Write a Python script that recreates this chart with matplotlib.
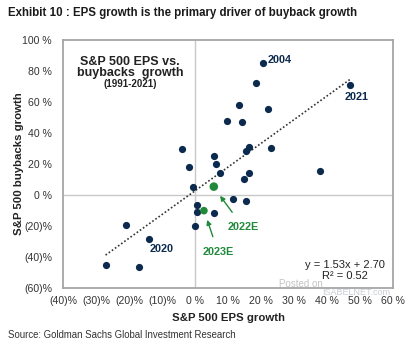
import matplotlib
matplotlib.use("Agg")
import matplotlib.pyplot as plt
import numpy as np

# yearly S&P 500 EPS growth vs buyback growth, 1991-2021 (%)
eps_growth = [-4.0, -1.7, -0.7, 0.5, 0.6, 0.0, 20.5, 18.4, 47.1, 13.3, 22.2, 9.8, 14.2,
              16.5, 15.6, 22.9, 5.9, 6.3, 7.6, 16.3, 15.0, 37.8, 11.4, 15.6, 5.9,
              -21.0, -13.8, -27.1, -17.0]
buyback_growth = [29.5, 18.3, 5.0, -6.5, -11.0, -20.0, 85.0, 72.0, 71.0, 58.3, 55.5, 48.0, 47.0,
                  31.0, 28.2, 30.3, 25.2, 20.0, 14.0, 14.4, 10.3, 15.5, -2.4, -4.1, -11.8,
                  -19.5, -28.4, -45.2, -46.5]

# estimates
est_labels = ["2022E", "2023E"]
est_eps = [5.7, 2.7]
est_buyback = [5.4, -10.1]

slope, intercept, r2 = 1.53, 2.70, 0.52

xticks = [-40, -30, -20, -10, 0, 10, 20, 30, 40, 50, 60]
yticks = [-60, -40, -20, 0, 20, 40, 60, 80, 100]


def pct(v):
    return f"({abs(v)})%" if v < 0 else f"{v} %"


navy = "#0b2a4e"
green = "#1f8a3b"
grey = "#a6a6a6"
plt.rcParams["font.family"] = ["Liberation Sans", "DejaVu Sans"]

fig = plt.figure(figsize=(4.10, 3.46), dpi=100)
ax = fig.add_axes([0.1537, 0.1676, 0.8048, 0.7168])

ax.set_xlim(-40, 60)
ax.set_ylim(-60, 100)
ax.set_xticks(xticks)
ax.set_yticks(yticks)
ax.set_xticklabels([pct(v) for v in xticks], fontsize=7.6, color="#333333")
ax.set_yticklabels([pct(v) for v in yticks], fontsize=7.6, color="#333333")
ax.tick_params(axis="x", length=0, pad=6)
ax.tick_params(axis="y", length=0, pad=8)
for s in ax.spines.values():
    s.set_color(grey)
    s.set_linewidth(1.3)
ax.axhline(0, color="#c8c8c8", lw=1, zorder=0)
ax.axvline(0, color="#c8c8c8", lw=1, zorder=0)

ax.scatter(eps_growth, buyback_growth, s=27, color=navy, zorder=3, linewidths=0)
ax.scatter(est_eps, est_buyback, s=[38, 30], color=green, zorder=4, linewidths=0)

# fitted trend over the historical range
xs = np.array([min(eps_growth), max(eps_growth)])
ax.plot(xs, slope * xs + intercept, ls=(0, (1, 1.3)), color="#333333", lw=1.2, zorder=2)

# year labels
ax.text(22, 87, "2004", color=navy, fontsize=7.8, fontweight="bold", va="center")
ax.text(48.9, 63.5, "2021", color=navy, fontsize=7.8, fontweight="bold", ha="center", va="center")
ax.text(-10.1, -34.8, "2020", color=navy, fontsize=7.8, fontweight="bold", ha="center", va="center")

ax.annotate("2022E", xy=(7.6, -0.5), xytext=(14.5, -20.5), color=green, fontsize=7.8,
            fontweight="bold", ha="center", va="center",
            arrowprops=dict(arrowstyle="-|>", color=green, lw=1, shrinkA=6, shrinkB=0,
                            mutation_scale=7))
ax.annotate("2023E", xy=(3.7, -16.0), xytext=(7.0, -37.0), color=green, fontsize=7.8,
            fontweight="bold", ha="center", va="center",
            arrowprops=dict(arrowstyle="-|>", color=green, lw=1, shrinkA=6, shrinkB=0,
                            mutation_scale=7))

ax.text(-19.7, 85.8, "S&P 500 EPS vs.", ha="center", va="center",
        fontsize=9, fontweight="bold", color="#222222")
ax.text(-19.7, 78.4, "buybacks  growth", ha="center", va="center",
        fontsize=9, fontweight="bold", color="#222222")
ax.text(-19.7, 71.5, "(1991-2021)", ha="center", va="center", fontsize=7,
        fontweight="bold", color="#222222")

ax.text(57.5, -45, f"y = {slope:.2f}x + {intercept:.2f}", ha="right", va="center",
        fontsize=8, color="#222222")
ax.text(45.5, -52.5, f"R² = {r2:.2f}", ha="center", va="center", fontsize=8, color="#222222")

# site watermark
ax.text(32.0, -57.5, "Posted on", ha="center", va="center", fontsize=7, color="#c4c4c4",
        zorder=1)
ax.text(38.5, -63.2, "ISABELNET.com", ha="left", va="center", fontsize=6.5,
        color="#c8ced6", clip_on=False)

ax.set_xlabel("S&P 500 EPS growth", fontsize=8.2, fontweight="bold", color="#222222",
              labelpad=5)
ax.set_ylabel("S&P 500 buybacks growth", fontsize=8.2, fontweight="bold", color="#222222")
ax.yaxis.set_label_coords(-0.118, 0.5)

fig.text(0.02, 0.963, "Exhibit 10 : EPS growth is the primary driver of buyback growth",
         fontsize=8.3, fontweight="bold", color="#1a1a1a", va="center")
fig.text(0.02, 0.032, "Source: Goldman Sachs Global Investment Research", fontsize=6.9,
         color="#333333", va="center")

fig.savefig("out.png", dpi=100)
